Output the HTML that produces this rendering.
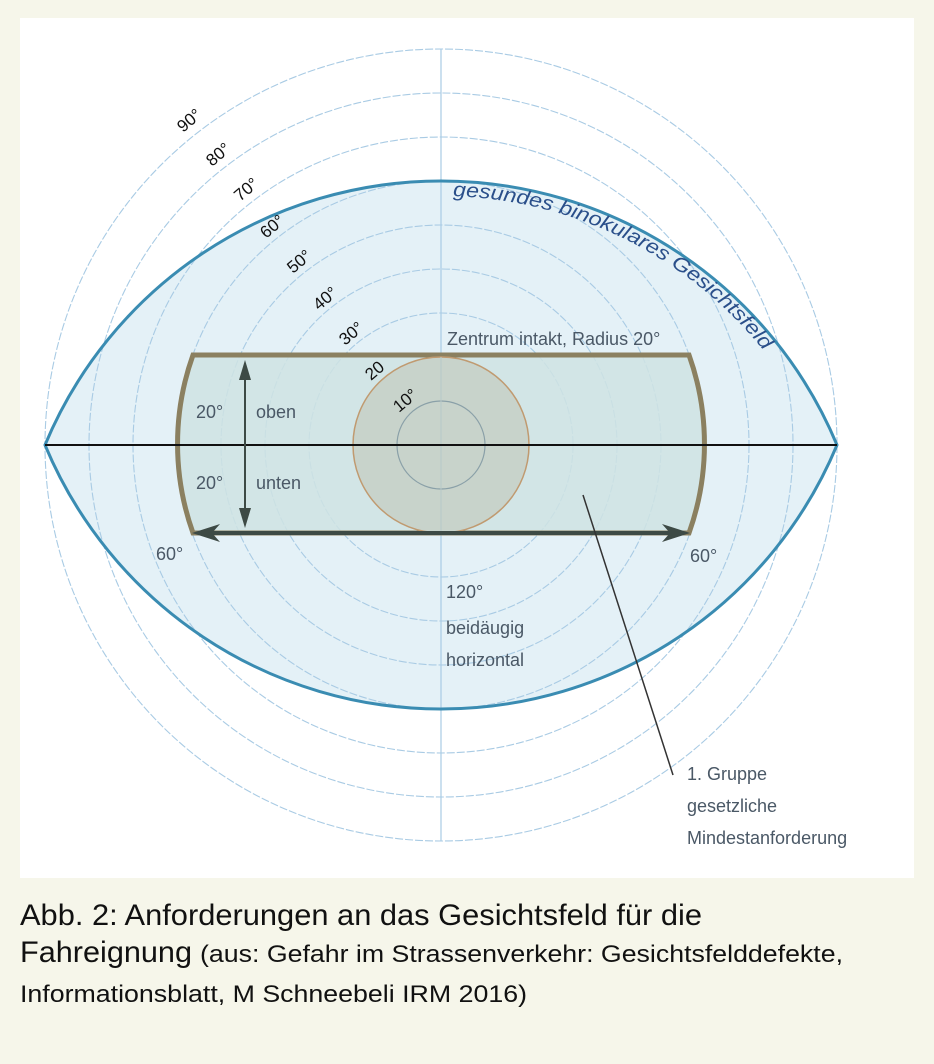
<!DOCTYPE html>
<html><head><meta charset="utf-8"><style>
html,body{margin:0;padding:0;background:#f6f6ea;}
svg{display:block;}
</style></head><body>
<svg width="934" height="1064" viewBox="0 0 934 1064" xmlns="http://www.w3.org/2000/svg" font-family="Liberation Sans, sans-serif">
<rect width="934" height="1064" fill="#f6f6ea"/>
<rect x="20" y="18" width="894" height="860" fill="#ffffff"/>
<path d="M45,445 A429,429 0 0 1 837,445 A429,429 0 0 1 45,445 Z" fill="#e4f1f7"/>
<g fill="none" stroke="#a9cbe4" stroke-width="1.1" stroke-dasharray="8,2">
<circle cx="441" cy="445" r="44"/><circle cx="441" cy="445" r="88"/><circle cx="441" cy="445" r="132"/>
<circle cx="441" cy="445" r="176"/><circle cx="441" cy="445" r="220"/><circle cx="441" cy="445" r="264"/>
<circle cx="441" cy="445" r="308"/><circle cx="441" cy="445" r="352"/><circle cx="441" cy="445" r="396"/>
</g>
<line x1="441" y1="49" x2="441" y2="841" stroke="#a9cbe4" stroke-width="1.2"/>
<path d="M193,355 L689,355 A264,264 0 0 1 689,533 L193,533 A264,264 0 0 1 193,355 Z" fill="#cfe3e3" fill-opacity="0.85" stroke="#8b8060" stroke-width="5"/>
<circle cx="441" cy="445" r="88" fill="#c8d3cb" stroke="#c09a70" stroke-width="1.5"/>
<circle cx="441" cy="445" r="44" fill="none" stroke="#8aa0a8" stroke-width="1.2"/>
<line x1="441" y1="357" x2="441" y2="531" stroke="#b6c8c8" stroke-width="1"/>
<path d="M45,445 A429,429 0 0 1 837,445 A429,429 0 0 1 45,445 Z" fill="none" stroke="#3a8cb2" stroke-width="3"/>
<line x1="45" y1="445" x2="837" y2="445" stroke="#111" stroke-width="2"/>
<line x1="200" y1="533" x2="682" y2="533" stroke="#3d4a45" stroke-width="4"/>
<path d="M192,533 L220,524 L212,533 L220,542 Z" fill="#3d4a45"/>
<path d="M690,533 L662,524 L670,533 L662,542 Z" fill="#3d4a45"/>
<line x1="245" y1="368" x2="245" y2="520" stroke="#3d4a45" stroke-width="2"/>
<path d="M245,360 L239,380 L251,380 Z" fill="#3d4a45"/>
<path d="M245,528 L239,508 L251,508 Z" fill="#3d4a45"/>
<line x1="583" y1="495" x2="673" y2="775" stroke="#333" stroke-width="1.5"/>
<g font-size="17" fill="#111">
<text transform="translate(183,133) rotate(-40)">90°</text>
<text transform="translate(212,167) rotate(-40)">80°</text>
<text transform="translate(240,202) rotate(-40)">70°</text>
<text transform="translate(266,239) rotate(-40)">60°</text>
<text transform="translate(293,274) rotate(-40)">50°</text>
<text transform="translate(319,311) rotate(-40)">40°</text>
<text transform="translate(345,346) rotate(-40)">30°</text>
<text transform="translate(371,381) rotate(-40)">20</text>
<text transform="translate(399,413) rotate(-40)">10°</text>
</g>
<g font-size="18" fill="#4a5866">
<text x="447" y="345">Zentrum intakt, Radius 20°</text>
<text x="196" y="418">20°</text><text x="256" y="418">oben</text>
<text x="196" y="489">20°</text><text x="256" y="489">unten</text>
<text x="156" y="560">60°</text><text x="690" y="562">60°</text>
<text x="446" y="598">120°</text>
<text x="446" y="634">beidäugig</text>
<text x="446" y="666">horizontal</text>
<text x="687" y="780">1. Gruppe</text>
<text x="687" y="812">gesetzliche</text>
<text x="687" y="844">Mindestanforderung</text>
</g>
<defs><path id="arc" d="M441,196 A414,414 0 0 1 855,610"/></defs>
<text font-size="20" font-style="italic" fill="#2a4f8a"><textPath href="#arc" startOffset="12" textLength="358" lengthAdjust="spacingAndGlyphs">gesundes binokulares Gesichtsfeld</textPath></text>
<g font-family="Liberation Sans Narrow, Liberation Sans, sans-serif" fill="#111">
<text x="20" y="925" font-size="30" textLength="682" lengthAdjust="spacingAndGlyphs">Abb. 2: Anforderungen an das Gesichtsfeld für die</text>
<text x="20" y="962" font-size="30" textLength="172" lengthAdjust="spacingAndGlyphs">Fahreignung</text>
<text x="200" y="962" font-size="24" textLength="643" lengthAdjust="spacingAndGlyphs">(aus: Gefahr im Strassenverkehr: Gesichtsfelddefekte,</text>
<text x="20" y="1002" font-size="24" textLength="507" lengthAdjust="spacingAndGlyphs">Informationsblatt, M Schneebeli IRM 2016)</text>
</g>
</svg>
</body></html>
